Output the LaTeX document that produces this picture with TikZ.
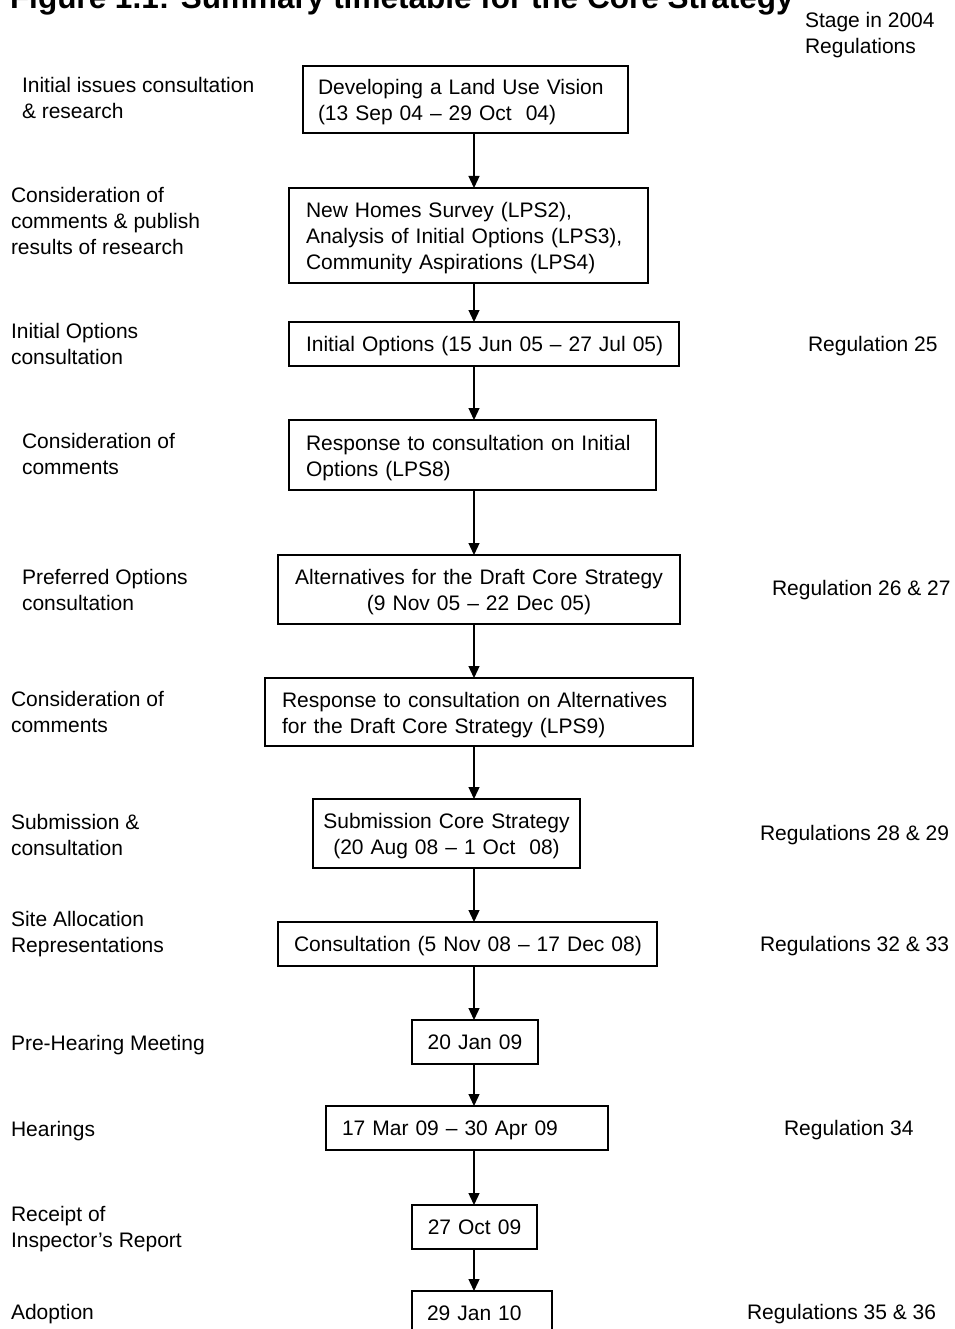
\documentclass[tikz,border=0pt]{standalone}
\usepackage{fontspec}
\setmainfont{Liberation Sans}
\usetikzlibrary{arrows.meta}
\newcommand{\topstrut}{\rule{0pt}{21pt}}
\begin{document}
\begin{tikzpicture}[x=1pt,y=-1pt,
  every node/.style={inner sep=0pt, outer sep=0pt},
  lbl/.style={font=\fontsize{21}{26}\selectfont, align=left, anchor=base west},
  box/.style={draw, line width=1.3pt, font=\fontsize{21}{26}\selectfont, inner ysep=0pt},
  lbox/.style={box, align=left},
  cbox/.style={box, align=center},
  oneline/.style={text depth=0pt},
  arr/.style={line width=1.3pt, -{Triangle[length=12pt,width=11pt]}}]
\path[use as bounding box, fill=white] (0,0) rectangle (954,1329);

% title and column header
\node[anchor=base west, font=\bfseries\fontsize{31.5}{36}\selectfont] (title) at (10,9) {Figure 1.1: Summary timetable for the Core Strategy};
\node[lbl] (hdr) at (805,54) {Stage in 2004\\Regulations};

% left column labels (anchor = baseline of the last line)
\node[lbl] (l1) at (22,119) {Initial issues consultation\\\& research};
\node[lbl] (l2) at (11,255) {Consideration of\\comments \& publish\\results of research};
\node[lbl] (l3) at (11,364) {Initial Options\\consultation};
\node[lbl] (l4) at (22,474) {Consideration of\\comments};
\node[lbl] (l5) at (22,610) {Preferred Options\\consultation};
\node[lbl] (l6) at (11,732) {Consideration of\\comments};
\node[lbl] (l7) at (11,855) {Submission \&\\consultation};
\node[lbl] (l8) at (11,952) {Site Allocation\\Representations};
\node[lbl] (l9) at (11,1050) {Pre-Hearing Meeting};
\node[lbl] (l10) at (11,1136) {Hearings};
\node[lbl] (l11) at (11,1247) {Receipt of\\Inspector's Report};
\node[lbl] (l12) at (11,1319) {Adoption};

% right column labels
\node[lbl] (r3) at (808,351) {Regulation 25};
\node[lbl] (r5) at (772,595) {Regulation 26 \& 27};
\node[lbl] (r7) at (760,840) {Regulations 28 \& 29};
\node[lbl] (r8) at (760,951) {Regulations 32 \& 33};
\node[lbl] (r10) at (784,1135) {Regulation 34};
\node[lbl] (r12) at (747,1319) {Regulations 35 \& 36};

% boxes
\node[lbox, minimum width=325pt, minimum height=67pt, text width=295pt, inner xsep=15pt] (b1) at (465.5,99.5)
  {\topstrut\mbox{Developing a Land Use Vision}\\\mbox{(13 Sep 04 – 29 Oct\ \ 04)}};
\node[lbox, minimum width=359pt, minimum height=95pt, text width=325pt, inner xsep=17pt] (b2) at (468.5,235.5)
  {\topstrut\mbox{New Homes Survey (LPS2),}\\\mbox{Analysis of Initial Options (LPS3),}\\\mbox{Community Aspirations (LPS4)}};
\node[lbox, oneline, minimum width=390pt, minimum height=44pt, text width=356pt, inner xsep=17pt] (b3) at (484,344)
  {\mbox{Initial Options (15 Jun 05 – 27 Jul 05)}};
\node[lbox, minimum width=367pt, minimum height=70pt, text width=333pt, inner xsep=17pt] (b4) at (472.5,455)
  {\topstrut\mbox{Response to consultation on Initial}\\\mbox{Options (LPS8)}};
\node[cbox, minimum width=402pt, minimum height=69pt, text width=394pt, inner xsep=4pt] (b5) at (479,589.5)
  {\topstrut Alternatives for the Draft Core Strategy\\(9 Nov 05 – 22 Dec 05)};
\node[lbox, minimum width=428pt, minimum height=68pt, text width=394pt, inner xsep=17pt] (b6) at (479,712)
  {\topstrut\mbox{Response to consultation on Alternatives}\\\mbox{for the Draft Core Strategy (LPS9)}};
\node[cbox, minimum width=267pt, minimum height=69pt, text width=259pt, inner xsep=4pt] (b7) at (446.5,833.5)
  {\topstrut Submission Core Strategy\\(20 Aug 08 – 1 Oct\ \ 08)};
\node[lbox, oneline, minimum width=379pt, minimum height=44pt, text width=347pt, inner xsep=16pt] (b8) at (467.5,944)
  {\mbox{Consultation (5 Nov 08 – 17 Dec 08)}};
\node[cbox, oneline, minimum width=126pt, minimum height=44pt, text width=118pt, inner xsep=4pt] (b9) at (475,1042)
  {20 Jan 09};
\node[lbox, oneline, minimum width=282pt, minimum height=44pt, text width=250pt, inner xsep=16pt] (b10) at (467,1128)
  {\mbox{17 Mar 09 – 30 Apr 09}};
\node[cbox, oneline, minimum width=125pt, minimum height=44pt, text width=117pt, inner xsep=4pt] (b11) at (474.5,1227)
  {27 Oct 09};
\node[lbox, oneline, minimum width=140pt, minimum height=44pt, text width=110pt, inner xsep=15pt] (b12) at (482,1313)
  {\mbox{29 Jan 10}};

% arrows on a common vertical line
\coordinate (sp) at (474,0);
\foreach \a/\b in {b1/b2,b2/b3,b3/b4,b4/b5,b5/b6,b6/b7,b7/b8,b8/b9,b9/b10,b10/b11,b11/b12}
  \draw[arr] (\a.south -| sp) -- (\b.north -| sp);
\end{tikzpicture}
\end{document}
